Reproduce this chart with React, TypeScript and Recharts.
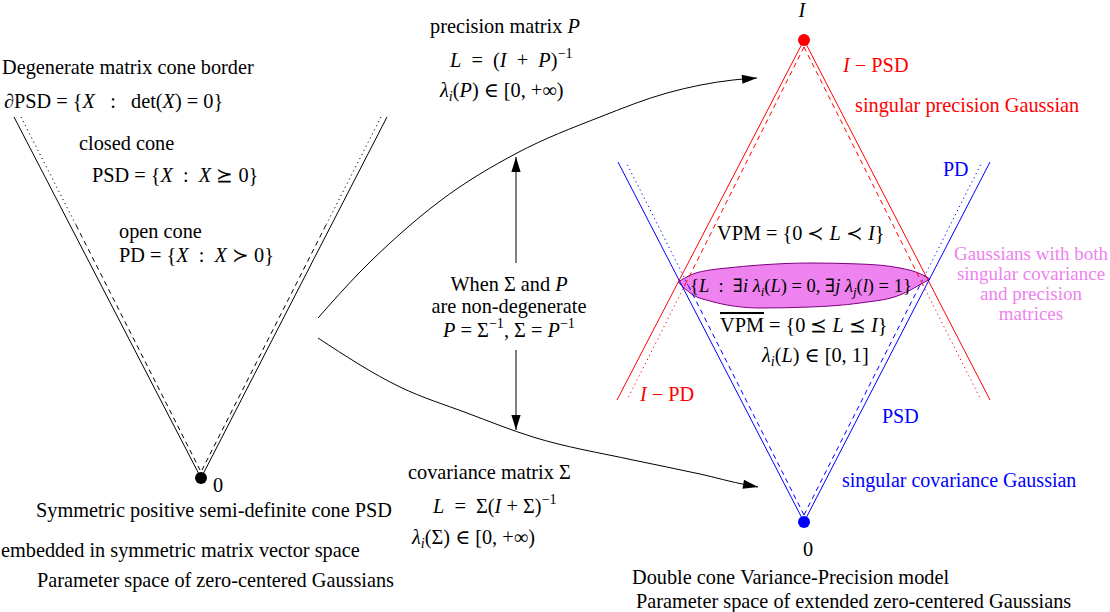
import React from 'react';
import { ComposedChart, XAxis, YAxis, Line, Scatter, Area } from 'recharts';

const W = 1110;
const H = 612;
const FONT = "'Liberation Serif', 'DejaVu Serif', serif";

// ---------- data (diagram coordinates) ----------
// left cone (PSD)
const leftOuterL = [{ x: 14, y: 117 }, { x: 201, y: 478 }];
const leftOuterR = [{ x: 387, y: 117 }, { x: 201, y: 478 }];
const leftDottedL = [{ x: 21, y: 117 }, { x: 76, y: 225 }];
const leftDashedL = [{ x: 76, y: 225 }, { x: 200, y: 470 }];
const leftDottedR = [{ x: 381, y: 117 }, { x: 326, y: 225 }];
const leftDashedR = [{ x: 326, y: 225 }, { x: 202, y: 470 }];

// red cone (I - PSD)
const redOuterL = [{ x: 804, y: 40 }, { x: 617, y: 400 }];
const redOuterR = [{ x: 804, y: 40 }, { x: 990, y: 400 }];
const redDashedL = [{ x: 804, y: 47 }, { x: 685, y: 285 }];
const redDottedL = [{ x: 685, y: 285 }, { x: 627, y: 400 }];
const redDashedR = [{ x: 804, y: 47 }, { x: 923, y: 285 }];
const redDottedR = [{ x: 923, y: 285 }, { x: 981, y: 400 }];

// blue cone (PSD)
const blueOuterL = [{ x: 804, y: 522 }, { x: 618, y: 162 }];
const blueOuterR = [{ x: 804, y: 522 }, { x: 990, y: 162 }];
const blueDashedL = [{ x: 804, y: 515 }, { x: 688, y: 285 }];
const blueDottedL = [{ x: 688, y: 285 }, { x: 626, y: 162 }];
const blueDashedR = [{ x: 804, y: 515 }, { x: 920, y: 285 }];
const blueDottedR = [{ x: 920, y: 285 }, { x: 982, y: 162 }];

// arrows
const upperCurve = [
  { x: 318, y: 318 }, { x: 360, y: 272 }, { x: 400, y: 234 }, { x: 440, y: 201 },
  { x: 517, y: 153 }, { x: 600, y: 117 }, { x: 667, y: 93 }, { x: 733, y: 80 }, { x: 757, y: 78 },
];
const lowerCurve = [
  { x: 318, y: 338 }, { x: 400, y: 387 }, { x: 467, y: 413 }, { x: 533, y: 437 },
  { x: 633, y: 460 }, { x: 700, y: 474 }, { x: 747, y: 485 }, { x: 758, y: 487 },
];
const upArrow = [{ x: 516, y: 263 }, { x: 516, y: 157 }];
const downArrow = [{ x: 516, y: 350 }, { x: 516, y: 430 }];

// lens (both singular) : range [top, bottom]
const lens = [
  { x: 678, r: [282, 282] }, { x: 693, r: [274, 295] }, { x: 710, r: [270, 301] },
  { x: 727, r: [268, 305] }, { x: 760, r: [265, 308] }, { x: 810, r: [263, 307] },
  { x: 860, r: [264, 303] }, { x: 900, r: [268, 295] }, { x: 923, r: [275, 283] },
  { x: 930, r: [279, 279] },
];

// apex dots
const blackDot = [{ x: 201, y: 478 }];
const redDot = [{ x: 804, y: 40 }];
const blueDot = [{ x: 804, y: 522 }];

// texts
const blackStartTexts = [
  { x: 2, y: 74, s: 'Degenerate matrix cone border' },
  { x: 4, y: 108, s: '∂PSD = {*X*   :   det(*X*) = 0}' },
  { x: 79, y: 150, s: 'closed cone' },
  { x: 92, y: 182, s: 'PSD = {*X*  :  *X* ⪰ 0}' },
  { x: 119, y: 238, s: 'open cone' },
  { x: 119, y: 262, s: 'PD = {*X*  :  *X* ≻ 0}' },
  { x: 213, y: 492, s: '0' },
  { x: 36, y: 517, s: 'Symmetric positive semi-definite cone PSD' },
  { x: 1, y: 557, s: 'embedded in symmetric matrix vector space' },
  { x: 37, y: 587, s: 'Parameter space of zero-centered Gaussians' },
  { x: 430, y: 33, s: 'precision matrix *P*' },
  { x: 450, y: 67, s: '*L*  =  (*I*  +  *P*)^−1^' },
  { x: 440, y: 97, s: '*λ*_i_(*P*) ∈ [0, +∞)' },
  { x: 408, y: 479, s: 'covariance matrix Σ' },
  { x: 433, y: 513, s: '*L*  =  Σ(*I* + Σ)^−1^' },
  { x: 412, y: 544, s: '*λ*_i_(Σ) ∈ [0, +∞)' },
  { x: 717, y: 240, s: 'VPM = {0 ≺ *L* ≺ *I*}' },
  { x: 720, y: 332, s: '~VPM~ = {0 ⪯ *L* ⪯ *I*}' },
  { x: 762, y: 362, s: '*λ*_i_(*L*) ∈ [0, 1]' },
  { x: 632, y: 584, s: 'Double cone Variance-Precision model' },
  { x: 636, y: 608, s: 'Parameter space of extended zero-centered Gaussians' },
];
const lensTexts = [
  { x: 690, y: 292, s: '{*L*  :  ∃*i* *λ*_i_(*L*) = 0, ∃*j* *λ*_j_(*l*) = 1}' },
];
const blackMiddleTexts = [
  { x: 509, y: 291, s: 'When Σ and *P*' },
  { x: 509, y: 313, s: 'are non-degenerate' },
  { x: 509, y: 337, s: '*P* = Σ^−1^, Σ = *P*^−1^' },
  { x: 802, y: 17, s: '*I*' },
  { x: 808, y: 556, s: '0' },
];
const redTexts = [
  { x: 843, y: 72, s: '*I* − PSD' },
  { x: 855, y: 112, s: 'singular precision Gaussian' },
  { x: 640, y: 401, s: '*I* − PD' },
];
const blueTexts = [
  { x: 943, y: 176, s: 'PD' },
  { x: 882, y: 423, s: 'PSD' },
  { x: 842, y: 487, s: 'singular covariance Gaussian' },
];
const violetTexts = [
  { x: 1031, y: 260, s: 'Gaussians with both' },
  { x: 1031, y: 280, s: 'singular covariance' },
  { x: 1031, y: 300, s: 'and precision' },
  { x: 1031, y: 320, s: 'matrices' },
];

// ---------- styles ----------
const DASH = '5 4';
const DOT = '1.2 3.4';
const lineSpecs: { data: { x: number; y: number }[]; color: string; dash?: string; curve?: boolean }[] = [
  { data: leftOuterL, color: '#000' },
  { data: leftOuterR, color: '#000' },
  { data: leftDottedL, color: '#000', dash: DOT },
  { data: leftDashedL, color: '#000', dash: DASH },
  { data: leftDottedR, color: '#000', dash: DOT },
  { data: leftDashedR, color: '#000', dash: DASH },
  { data: redOuterL, color: '#ff0000' },
  { data: redOuterR, color: '#ff0000' },
  { data: redDashedL, color: '#ff0000', dash: DASH },
  { data: redDottedL, color: '#ff0000', dash: DOT },
  { data: redDashedR, color: '#ff0000', dash: DASH },
  { data: redDottedR, color: '#ff0000', dash: DOT },
  { data: blueOuterL, color: '#0000ff' },
  { data: blueOuterR, color: '#0000ff' },
  { data: blueDashedL, color: '#0000ff', dash: DASH },
  { data: blueDottedL, color: '#0000ff', dash: DOT },
  { data: blueDashedR, color: '#0000ff', dash: DASH },
  { data: blueDottedR, color: '#0000ff', dash: DOT },
  { data: upperCurve, color: '#000', curve: true },
  { data: lowerCurve, color: '#000', curve: true },
  { data: upArrow, color: '#000' },
  { data: downArrow, color: '#000' },
];

const arrowHeads = [upperCurve, lowerCurve, upArrow, downArrow].map((pts) => {
  const a = pts[pts.length - 1];
  const b = pts[pts.length - 2];
  return { x: a.x, y: a.y, ang: Math.atan2(a.y - b.y, a.x - b.x) };
});

// ---------- rich text ----------
type Seg = { t: string; it: boolean; sup: boolean; sub: boolean; ov: boolean };
function parse(s: string): Seg[] {
  const segs: Seg[] = [];
  let it = false, sup = false, sub = false, ov = false;
  let cur = '';
  const push = () => {
    if (cur) segs.push({ t: cur.replace(/ /g, '\u00a0'), it, sup, sub, ov });
    cur = '';
  };
  for (const ch of s) {
    if (ch === '*') { push(); it = !it; }
    else if (ch === '^') { push(); sup = !sup; }
    else if (ch === '_') { push(); sub = !sub; }
    else if (ch === '~') { push(); ov = !ov; }
    else cur += ch;
  }
  push();
  return segs;
}

function RichText(props: { x: number; y: number; s: string; fill: string; size: number; anchor: 'start' | 'middle' }) {
  const { x, y, s, fill, size, anchor } = props;
  const segs = parse(s);
  let shift = 0;
  return (
    <text x={x} y={y} fill={fill} fontSize={size} textAnchor={anchor} fontFamily={FONT}>
      {segs.map((g, i) => {
        const target = g.sup ? -0.42 * size : g.sub ? 0.22 * size : 0;
        const dy = target - shift;
        shift = target;
        return (
          <tspan
            key={i}
            dy={dy !== 0 ? dy : undefined}
            fontStyle={g.it || g.sub ? 'italic' : 'normal'}
            fontSize={g.sup || g.sub ? size * 0.7 : size}
            textDecoration={g.ov ? 'overline' : undefined}
          >
            {g.t}
          </tspan>
        );
      })}
    </text>
  );
}

const textShape = (fill: string, size: number, anchor: 'start' | 'middle') => (p: any) =>
  <RichText x={p.cx} y={p.cy} s={p.payload.s} fill={fill} size={size} anchor={anchor} />;

const dotShape = (fill: string) => (p: any) => <circle cx={p.cx} cy={p.cy} r={6} fill={fill} />;

const arrowShape = (p: any) => {
  const L = 15;
  const hw = 4.6;
  const ang = p.payload.ang;
  const c = Math.cos(ang), s = Math.sin(ang);
  const bx = p.cx - L * c, by = p.cy - L * s;
  const pts = [
    [p.cx, p.cy],
    [bx - hw * s, by + hw * c],
    [bx + hw * s, by - hw * c],
  ].map((q) => q.join(',')).join(' ');
  return <polygon points={pts} fill="#000" />;
};

export default function App() {
  return (
    <div style={{ position: 'absolute', left: 0, top: 0, width: W, height: H, background: '#fff' }}>
      <ComposedChart width={W} height={H} margin={{ top: 0, right: 0, bottom: 0, left: 0 }}>
        <XAxis type="number" dataKey="x" domain={[0, W]} hide allowDataOverflow />
        <YAxis type="number" dataKey="y" domain={[0, H]} reversed hide allowDataOverflow />
        {lineSpecs.map((l, i) => (
          <Line
            key={'l' + i}
            data={l.data}
            dataKey="y"
            type={l.curve ? 'monotone' : 'linear'}
            stroke={l.color}
            strokeWidth={1}
            strokeDasharray={l.dash}
            dot={false}
            activeDot={false}
            isAnimationActive={false}
          />
        ))}
        <Area
          data={lens}
          dataKey="r"
          type="monotone"
          fill="#ee82ee"
          fillOpacity={1}
          stroke="#800080"
          strokeWidth={1}
          dot={false}
          activeDot={false}
          isAnimationActive={false}
        />
        <Scatter data={arrowHeads} shape={arrowShape} isAnimationActive={false} />
        <Scatter data={blackDot} shape={dotShape('#000')} isAnimationActive={false} />
        <Scatter data={redDot} shape={dotShape('#ff0000')} isAnimationActive={false} />
        <Scatter data={blueDot} shape={dotShape('#0000ff')} isAnimationActive={false} />
        <Scatter data={blackStartTexts} shape={textShape('#000', 20.3, 'start')} isAnimationActive={false} />
        <Scatter data={lensTexts} shape={textShape('#000', 18.5, 'start')} isAnimationActive={false} />
        <Scatter data={blackMiddleTexts} shape={textShape('#000', 20.3, 'middle')} isAnimationActive={false} />
        <Scatter data={redTexts} shape={textShape('#ff0000', 20.3, 'start')} isAnimationActive={false} />
        <Scatter data={blueTexts} shape={textShape('#0000ff', 20, 'start')} isAnimationActive={false} />
        <Scatter data={violetTexts} shape={textShape('#ee82ee', 19, 'middle')} isAnimationActive={false} />
      </ComposedChart>
    </div>
  );
}
